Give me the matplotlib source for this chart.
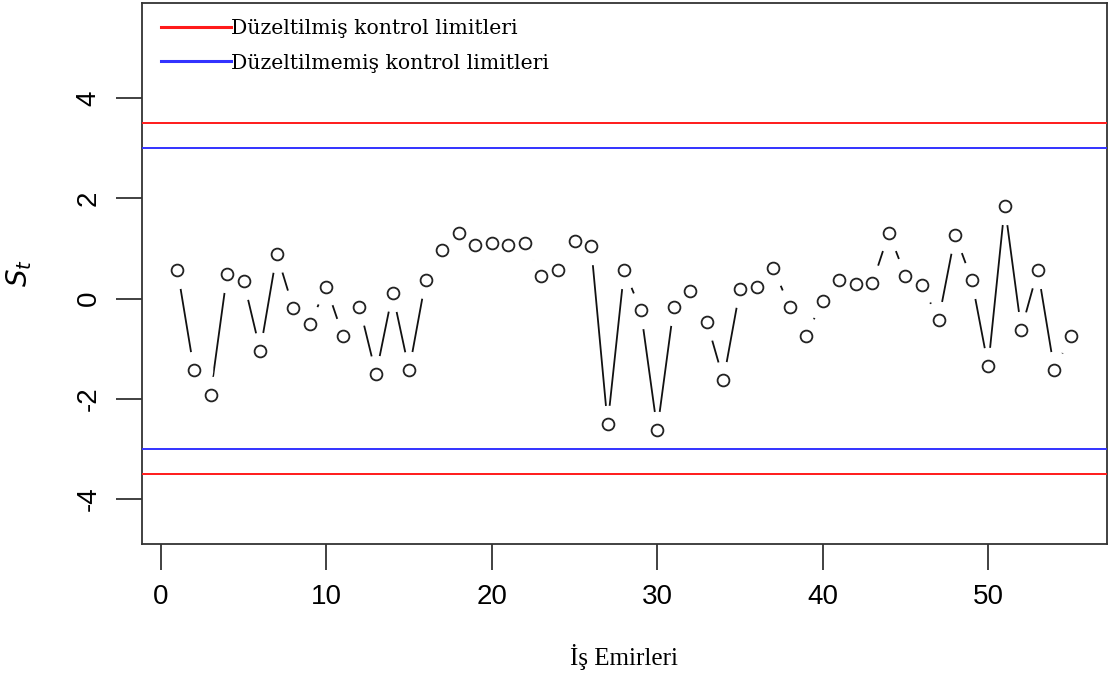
import numpy as np
import matplotlib.pyplot as plt

plt.rcParams["axes.unicode_minus"] = False

# S_t values per work order
orders = np.arange(1, 56)
st = [0.57, -1.43, -1.92, 0.49, 0.35, -1.04, 0.89, -0.19, -0.51, 0.23,
      -0.74, -0.16, -1.51, 0.11, -1.43, 0.37, 0.96, 1.31, 1.07, 1.11,
      1.07, 1.11, 0.45, 0.57, 1.15, 1.04, -2.51, 0.57, -0.23, -2.62,
      -0.16, 0.15, -0.47, -1.62, 0.19, 0.23, 0.61, -0.16, -0.74, -0.04,
      0.38, 0.29, 0.31, 1.31, 0.45, 0.27, -0.43, 1.27, 0.38, -1.35,
      1.85, -0.62, 0.57, -1.43, -0.74]

adj_limit = 3.5    # düzeltilmiş
unadj_limit = 3.0  # düzeltilmemiş

fig = plt.figure(figsize=(11.1, 6.83), dpi=100)
ax = fig.add_axes([0.1277, 0.2035, 0.8693, 0.7921])

red = "#ff1a1a"
blue = "#3333ff"
ax.axhline(adj_limit, color=red, lw=1.4, zorder=6, label="Düzeltilmiş kontrol limitleri")
ax.axhline(unadj_limit, color=blue, lw=1.4, zorder=6, label="Düzeltilmemiş kontrol limitleri")
ax.axhline(-unadj_limit, color=blue, lw=1.4, zorder=6)
ax.axhline(-adj_limit, color=red, lw=1.4, zorder=6)

# R type="b": line with gaps around the points
ax.plot(orders, st, color="#111111", lw=1.3, zorder=3)
ax.plot(orders, st, "o", ms=26, mfc="white", mec="white", zorder=4)
ax.plot(orders, st, "o", ms=8.5, mfc="none", mec="#222222", mew=1.3, zorder=5)

ax.set_xlim(-1.16, 57.16)
ax.set_ylim(-4.9, 5.9)
ax.set_xticks([0, 10, 20, 30, 40, 50])
ax.set_yticks([-4, -2, 0, 2, 4])
ax.tick_params(length=19, width=1.3, color="#333333", labelsize=20, pad=10)
for lab in ax.get_xticklabels() + ax.get_yticklabels():
    lab.set_family("Liberation Sans")
for lab in ax.get_yticklabels():
    lab.set_rotation(90)
    lab.set_va("center")
for sp in ax.spines.values():
    sp.set_linewidth(1.3)
    sp.set_color("#333333")

ax.set_xlabel("İş Emirleri", family="Liberation Serif", fontsize=18, labelpad=24)
ax.set_ylabel("$S_t$", fontsize=20, labelpad=30)

leg = ax.legend(loc="upper left", bbox_to_anchor=(0.0117, 0.985), frameon=False,
                prop={"family": "DejaVu Serif", "size": 14.7},
                handlelength=3.4, handletextpad=0.0, borderaxespad=0.0,
                borderpad=0.4, labelspacing=0.75)
for line in leg.get_lines():
    line.set_linewidth(2.2)

fig.savefig("out.png", dpi=100)
